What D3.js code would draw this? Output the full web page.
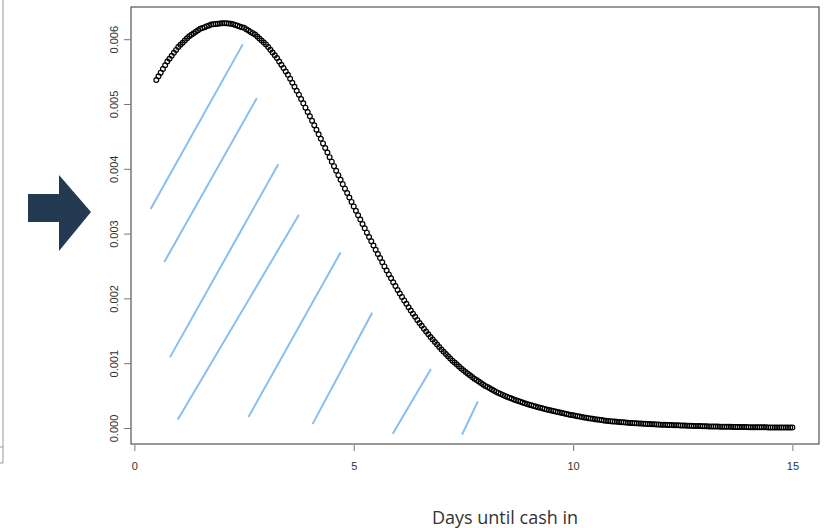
<!DOCTYPE html>
<html>
<head>
<meta charset="utf-8">
<script src="https://cdn.jsdelivr.net/npm/d3@7"></script>
<style>
  body { margin: 0; background: #fff; }
  svg { display: block; }
</style>
</head>
<body>
<svg></svg>
<script>
// density every 0.05 days, starting at day 0.5 (millionths)
const firstDay = 0.5
const dayStep = 0.05
const densityE6 = [
  5370, 5427, 5484, 5540, 5597, 5654, 5699, 5744, 5790, 5835,
  5880, 5913, 5946, 5980, 6013, 6046, 6069, 6092, 6114, 6137,
  6160, 6173, 6186, 6199, 6212, 6225, 6229, 6233, 6237, 6241,
  6245, 6246, 6245, 6241, 6237, 6231, 6220, 6209, 6197, 6186,
  6175, 6154, 6134, 6113, 6093, 6072, 6042, 6011, 5981, 5950,
  5920, 5878, 5836, 5793, 5751, 5709, 5657, 5605, 5554, 5502,
  5450, 5389, 5328, 5266, 5205, 5144, 5077, 5010, 4944, 4877,
  4810, 4741, 4671, 4602, 4532, 4463, 4392, 4321, 4251, 4180,
  4110, 4041, 3971, 3902, 3832, 3763, 3694, 3626, 3557, 3489,
  3420, 3352, 3284, 3217, 3149, 3081, 3015, 2948, 2882, 2816,
  2750, 2686, 2622, 2558, 2494, 2430, 2370, 2310, 2250, 2190,
  2130, 2076, 2023, 1969, 1916, 1862, 1814, 1765, 1717, 1668,
  1620, 1577, 1533, 1490, 1446, 1403, 1364, 1326, 1287, 1249,
  1210, 1176, 1142, 1107, 1073, 1039, 1009, 980, 950, 920,
  890, 864, 839, 813, 787, 761, 739, 716, 694, 672,
  650, 631, 613, 594, 576, 557, 542, 526, 511, 495,
  480, 467, 454, 441, 428, 415, 404, 393, 382, 371,
  360, 350, 341, 331, 322, 312, 304, 295, 287, 278,
  270, 262, 254, 246, 238, 230, 223, 216, 209, 202,
  195, 189, 182, 176, 169, 163, 157, 152, 146, 141,
  135, 131, 126, 122, 117, 113, 109, 106, 102, 99,
  95, 92, 89, 87, 84, 81, 79, 76, 74, 72,
  70, 68, 66, 64, 62, 60, 58, 57, 55, 53,
  52, 51, 49, 48, 46, 45, 44, 42, 41, 39,
  38, 37, 36, 34, 33, 32, 31, 30, 29, 28,
  27, 26, 25, 25, 24, 23, 22, 21, 21, 20,
  19, 18, 18, 17, 17, 16, 15, 15, 14, 14,
  13, 13, 12, 12, 11, 11, 11, 10, 10, 9,
  9, 9, 8, 8, 7, 7, 7, 7, 6, 6,
  6
]

const xTicks = [0, 5, 10, 15]
const yTicks = [0, 0.001, 0.002, 0.003, 0.004, 0.005, 0.006]

// blue hatch strokes: [day, density] at each end
const hatchBottom = [
  [0.37, 0.00338], [0.68, 0.00256], [0.81, 0.00109], [0.99, 0.00013],
  [2.60, 0.00017], [4.06, 0.00006], [5.89, -0.00009], [7.47, -0.00010]
]
const hatchTop = [
  [2.47, 0.00592], [2.79, 0.00509], [3.28, 0.00407], [3.75, 0.00329],
  [4.70, 0.00271], [5.42, 0.00178], [6.76, 0.00091], [7.83, 0.00041]
]

const xTitle = 'Days until cash in'

;(function (d3) {
  'use strict'

  const width = 833
  const height = 528
  const box = { left: 131, top: 7, right: 819, bottom: 444 }

  const svg = d3.select('svg').
    attr('width', width).
    attr('height', height)

  const x = d3.scaleLinear().domain([0, 15]).range([134.4, 792.4])
  const y = d3.scaleLinear().domain([0, 0.006]).range([428, 39.2])

  // leftover frame of the neighbouring panel
  svg.append('path').
    attr('d', 'M3,0V463H0M0,447H3').
    attr('fill', 'none').
    attr('stroke', '#999')

  // arrow
  svg.append('path').
    attr('d', 'M28,194H59V175L91,212L59,251V222H28Z').
    attr('fill', '#243a52')

  // hatch strokes
  svg.append('g').selectAll('line').data(hatchBottom).
    enter().append('line').
    attr('x1', d => x(d[0])).
    attr('y1', d => y(d[1])).
    attr('x2', (d, i) => x(hatchTop[i][0])).
    attr('y2', (d, i) => y(hatchTop[i][1])).
    attr('stroke', '#86bff0').
    attr('stroke-width', 2)

  // plot frame
  svg.append('rect').
    attr('x', box.left).
    attr('y', box.top).
    attr('width', box.right - box.left).
    attr('height', box.bottom - box.top).
    attr('fill', 'none').
    attr('stroke', '#555').
    attr('stroke-width', 1.2)

  // points
  svg.append('g').selectAll('circle').data(densityE6).
    enter().append('circle').
    attr('cx', (d, i) => x(firstDay + i * dayStep)).
    attr('cy', d => y(d / 1e6)).
    attr('r', 2.4).
    attr('fill', 'none').
    attr('stroke', '#000').
    attr('stroke-width', 1.2)

  const tickFont = g => g.
    attr('font-family', '"Liberation Sans", Arial, sans-serif').
    attr('font-size', 11)

  const xAxis = svg.append('g').
    attr('transform', 'translate(0,445)').
    call(d3.axisBottom(x).tickValues(xTicks).tickSize(6).tickPadding(11).tickFormat(d3.format('d'))).
    call(tickFont)
  xAxis.select('.domain').remove()
  xAxis.selectAll('line').attr('stroke', '#777')
  xAxis.selectAll('text').attr('fill', '#333')

  const yAxis = svg.append('g').
    attr('transform', `translate(${box.left},0)`).
    call(d3.axisLeft(y).tickValues(yTicks).tickSize(7).tickFormat(d3.format('.3f'))).
    call(tickFont)
  yAxis.select('.domain').remove()
  yAxis.selectAll('line').attr('stroke', '#777')
  yAxis.selectAll('text').
    attr('fill', '#333').
    attr('transform', 'rotate(-90)').
    attr('x', 0).
    attr('y', -13.5).
    attr('dy', 0).
    attr('text-anchor', 'middle')

  svg.append('text').
    attr('x', 505).
    attr('y', 524).
    attr('text-anchor', 'middle').
    attr('font-family', '"Open Sans", sans-serif').
    attr('font-size', 18).
    attr('fill', '#333').
    text(xTitle)
}(d3))
</script>
</body>
</html>
